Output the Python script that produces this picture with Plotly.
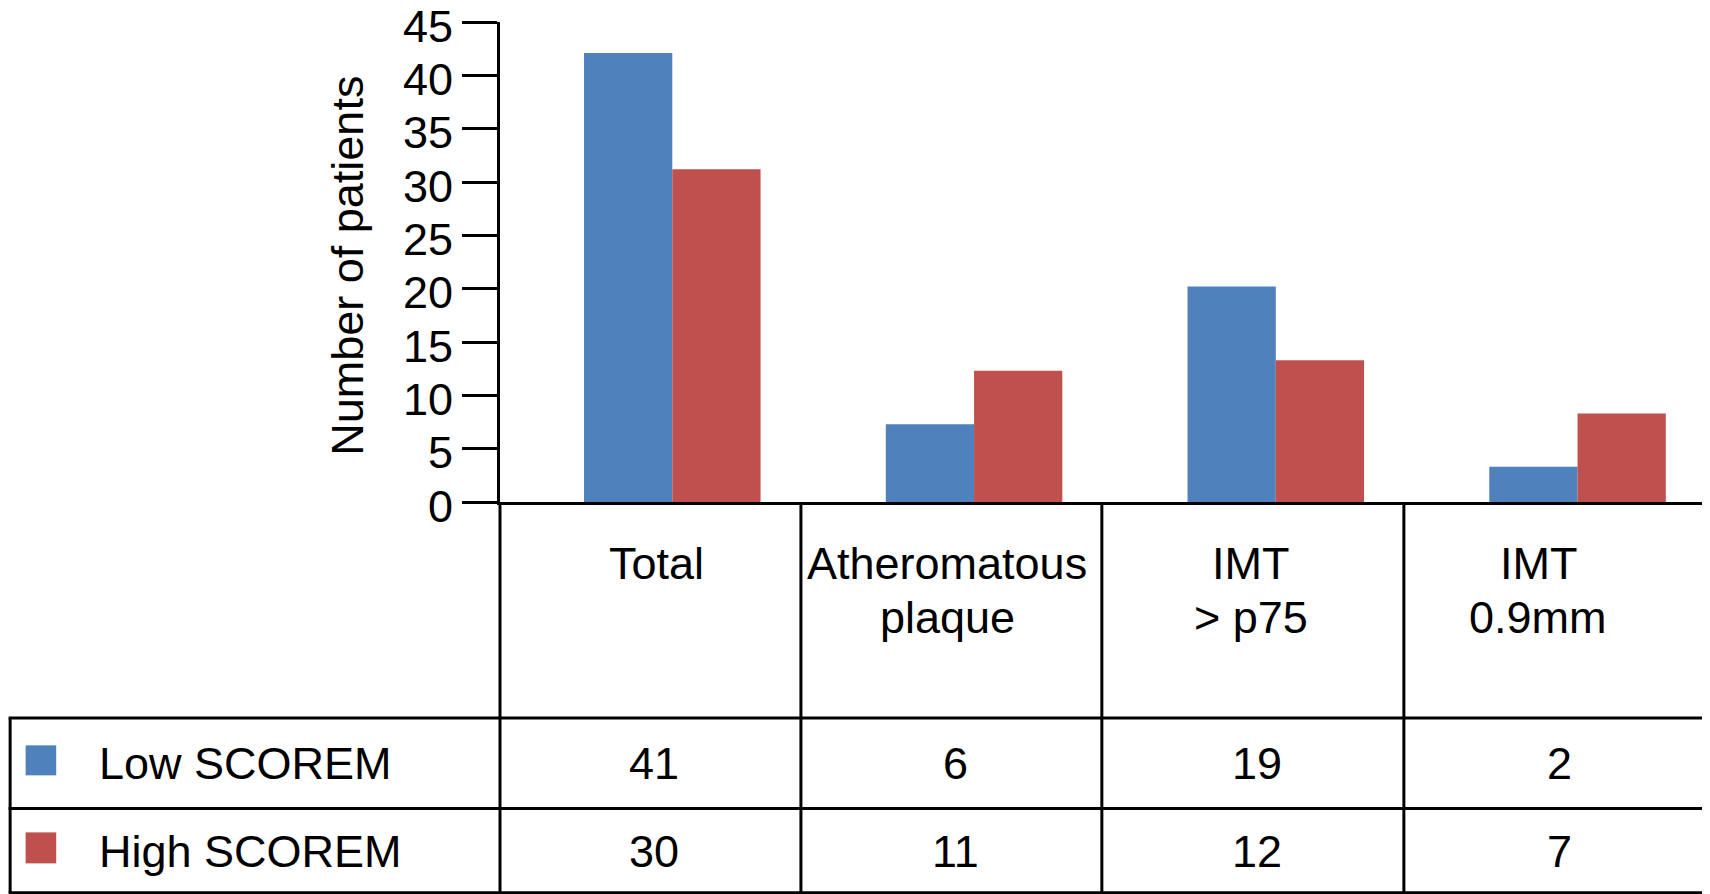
import plotly.graph_objects as go

# ---------------- data ----------------
categories = ["Total", "Atheromatous plaque", "IMT > p75", "IMT 0.9mm"]
header_lines = [["Total"], ["Atheromatous", "plaque"], ["IMT", "> p75"], ["IMT", "0.9mm"]]
series_names = ["Low SCOREM", "High SCOREM"]
# bar heights as drawn in the chart
low_bars = [42.1, 7.3, 20.2, 3.3]
high_bars = [31.2, 12.3, 13.3, 8.3]
# values printed in the table
low_table = [41, 6, 19, 2]
high_table = [30, 11, 12, 7]
y_ticks = [0, 5, 10, 15, 20, 25, 30, 35, 40, 45]

BLUE = "#4F81BD"
RED = "#C0504D"
FONT = "Liberation Sans, Arial, Helvetica, sans-serif"
FS = 45

# ---------------- layout geometry (page pixels; body has an 8px margin) ----------------
OFF = 8
W, H = 1710 - OFF, 894 - OFF
L, R = 499.5 - OFF, 1706.8 - OFF
T, B = 21.8 - OFF, 501.7 - OFF
col_edges = [e - OFF for e in [499.5, 800.5, 1101.5, 1403.6, 1706.8]]
row_lines = [e - OFF for e in [717.6, 808.1, 892.4]]


def xp(px):
    return (px - OFF - L) / (R - L)


def yp(py):
    return (B - (py - OFF)) / (B - T)


xs = list(range(len(categories)))

fig = go.Figure()
fig.add_trace(go.Bar(x=xs, y=low_bars, name=series_names[0], marker=dict(color=BLUE, line=dict(width=0))))
fig.add_trace(go.Bar(x=xs, y=high_bars, name=series_names[1], marker=dict(color=RED, line=dict(width=0))))

shapes = []
line_style = dict(color="black", width=3)
P = lambda v: v + OFF  # back to page coords for helpers
for cx in col_edges:
    shapes.append(dict(type="line", xref="paper", yref="paper",
                       x0=xp(P(cx)), x1=xp(P(cx)), y0=yp(P(B)), y1=yp(P(row_lines[-1])), line=line_style))
shapes.append(dict(type="line", xref="paper", yref="paper",
                   x0=xp(OFF + 1.5), x1=xp(OFF + 1.5), y0=yp(P(row_lines[0])), y1=yp(P(row_lines[-1])),
                   line=line_style))
for ry in row_lines:
    shapes.append(dict(type="line", xref="paper", yref="paper",
                       x0=xp(OFF), x1=xp(P(R)), y0=yp(P(ry)), y1=yp(P(ry)), line=line_style))
for (y0, y1), col in zip([(745, 775), (832, 863)], [BLUE, RED]):
    shapes.append(dict(type="rect", xref="paper", yref="paper",
                       x0=xp(25), x1=xp(55.6), y0=yp(y1), y1=yp(y0),
                       fillcolor=col, line=dict(width=0)))

annotations = []
annotations.append(dict(text="Number of patients", xref="paper", yref="paper",
                        x=xp(347), y=yp(266), textangle=-90, showarrow=False,
                        xanchor="center", yanchor="middle", font=dict(size=FS, color="black", family=FONT)))
col_centers = [(P(col_edges[i]) + P(col_edges[i + 1])) / 2 for i in range(len(categories))]
header_dx = [6, -4, -2, -17]
line_y = [563, 617]
for i, lines in enumerate(header_lines):
    for j, t in enumerate(lines):
        annotations.append(dict(text=t, xref="paper", yref="paper",
                                x=xp(col_centers[i] + header_dx[i]), y=yp(line_y[j]),
                                showarrow=False, xanchor="center", yanchor="middle",
                                font=dict(size=FS, color="black", family=FONT)))
row_y = [763.4, 850.7]
for r, (name, vals) in enumerate(zip(series_names, [low_table, high_table])):
    annotations.append(dict(text=name, xref="paper", yref="paper", x=xp(96), y=yp(row_y[r]),
                            showarrow=False, xanchor="left", yanchor="middle",
                            font=dict(size=FS, color="black", family=FONT)))
    for i, v in enumerate(vals):
        annotations.append(dict(text=str(v), xref="paper", yref="paper",
                                x=xp(col_centers[i] + 4), y=yp(row_y[r]),
                                showarrow=False, xanchor="center", yanchor="middle",
                                font=dict(size=FS, color="black", family=FONT)))

fig.update_layout(
    width=W, height=H,
    margin=dict(l=L, r=W - R, t=T, b=H - B, pad=0, autoexpand=False),
    paper_bgcolor="white", plot_bgcolor="white",
    barmode="group", bargap=0.415, bargroupgap=0,
    showlegend=False,
    shapes=shapes, annotations=annotations,
    font=dict(family=FONT, color="black", size=FS),
)
fig.update_xaxes(range=[-0.571, 3.429], showgrid=False, zeroline=False, showticklabels=False,
                 ticks="", showline=True, linecolor="black", linewidth=3, automargin=False)
fig.update_yaxes(range=[0, 45], tickvals=y_ticks, showgrid=False, zeroline=False,
                 showline=True, linecolor="black", linewidth=3,
                 ticks="outside", ticklen=35, tickwidth=3, tickcolor="black",
                 tickfont=dict(size=FS, color="black", family=FONT), ticklabelstandoff=0,
                 ticklabelshift=4, ticklabeloverflow="allow", automargin=False)

fig.write_html("out.html")
